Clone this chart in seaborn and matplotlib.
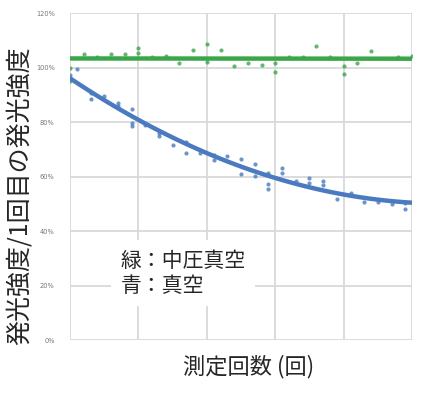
#!/usr/bin/env python3

import matplotlib
matplotlib.use("Agg")
import matplotlib.pyplot as plt
import numpy as np
import pandas as pd
import seaborn as sns

# green: medium-pressure vacuum (measurement index, relative intensity %)
green_x = [0, 0, 1, 2, 3, 4, 5, 5, 6, 7, 8, 9, 10, 10, 11, 12, 13, 14, 15, 15,
           16, 17, 18, 19, 20, 20, 21, 22, 24, 25]
green_y = [100.0, 95.2, 104.8, 104.0, 105.0, 105.0, 107.3, 105.5, 104.0, 104.4,
           101.8, 106.5, 108.7, 102.2, 106.5, 100.7, 101.8, 101.0, 101.8, 98.5,
           103.7, 103.7, 108.0, 104.0, 100.7, 97.8, 101.8, 105.9, 103.7, 104.4]

# blue: vacuum
blue_x = [0, 0.5, 1.5, 1.5, 2.5, 3.5, 3.5, 4.5, 4.5, 4.5, 5.5, 6.5, 6.5, 7.5,
          8.5, 8.5, 9.5, 10.5, 10.5, 11.5, 12.5, 12.5, 13.5, 13.5, 14.5, 14.5,
          14.5, 15.5, 15.5, 16.5, 17.5, 17.5, 18.5, 18.5, 19.5, 20.5, 21.5,
          22.5, 23.5, 24.5, 24.5]
blue_y = [97.3, 99.4, 90.5, 88.3, 89.5, 87.0, 85.9, 84.6, 79.6, 78.5, 78.9,
          76.0, 74.9, 71.4, 72.8, 68.7, 68.6, 67.9, 66.0, 67.5, 66.4, 60.9,
          64.6, 60.2, 61.4, 57.2, 55.4, 63.1, 61.4, 58.2, 59.3, 57.6, 58.5,
          56.9, 51.7, 53.9, 50.8, 50.8, 49.9, 50.3, 48.1]

y_ticks = [0, 20, 40, 60, 80, 100, 120]
y_tick_labels = ["0%", "20%", "40%", "60%", "80%", "100%", "120%"]
x_ticks = [0, 5, 10, 15, 20, 25]

GREEN = "#3aa64a"
BLUE = "#4a7ac0"

sns.set_style("white")
plt.rcParams["font.family"] = ["Noto Sans CJK JP", "DejaVu Sans"]

fig = plt.figure(figsize=(4.33, 3.94), dpi=100)
ax = fig.add_axes([0.1617, 0.137, 0.79, 0.83])
ax.set_xlim(0, 25)
ax.set_ylim(0, 120)

green_df = pd.DataFrame({"x": green_x, "y": green_y})
blue_df = pd.DataFrame({"x": blue_x, "y": blue_y})

sns.regplot(data=green_df, x="x", y="y", ax=ax, ci=None, truncate=False,
            color=GREEN, scatter_kws={"s": 9, "linewidths": 0},
            line_kws={"lw": 3.2})
sns.regplot(data=blue_df, x="x", y="y", ax=ax, order=2, ci=None, truncate=False,
            color=BLUE, scatter_kws={"s": 9, "linewidths": 0},
            line_kws={"lw": 3.2})

ax.set_xlim(0, 25)
ax.set_ylim(0, 120)
ax.set_xticks(x_ticks)
ax.set_xticklabels([])
ax.set_yticks(y_ticks)
ax.set_yticklabels(y_tick_labels, fontsize=4.8, color="#777777",
                   family="DejaVu Sans")
ax.tick_params(length=0, pad=11)
ax.grid(True, color="#d9d9d9", lw=1.3)
ax.set_axisbelow(True)
for s in ax.spines.values():
    s.set_visible(False)

ax.set_xlabel("測定回数 (回)", fontsize=16)
ax.xaxis.set_label_coords(0.523, -0.045)
ax.set_ylabel("発光強度/1回目の発光強度", fontsize=18)
ax.yaxis.set_label_coords(-0.11, 0.44)

ax.text(3.7, 24.5, "緑：中圧真空\n青：真空", fontsize=15, linespacing=1.2,
        va="center", ha="left",
        bbox=dict(boxstyle="square,pad=0.45", fc="white", ec="none"))

fig.savefig("out.png", dpi=100)
